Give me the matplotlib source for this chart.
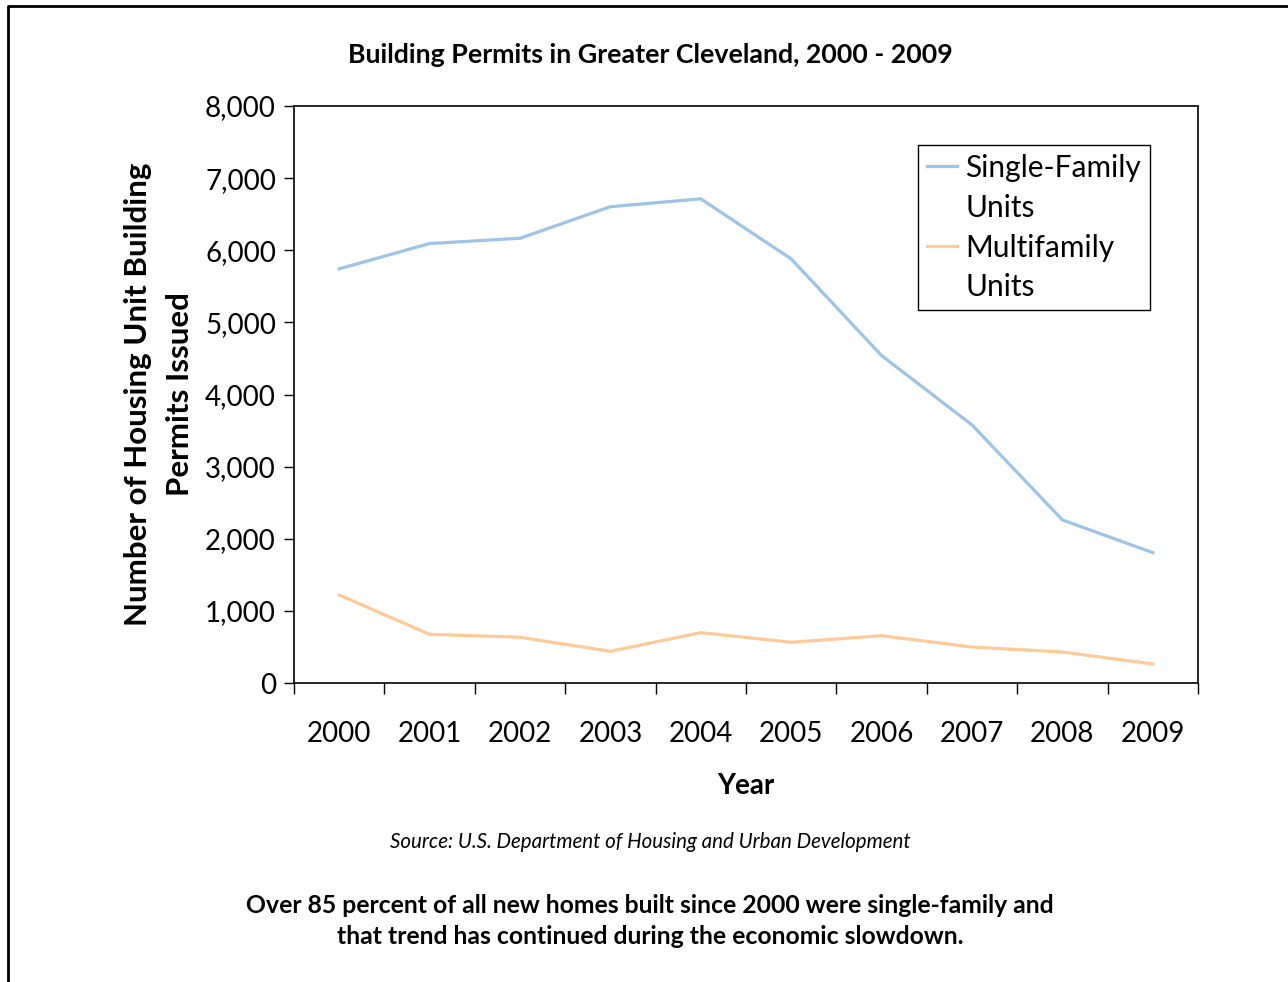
import matplotlib.pyplot as plt
from matplotlib.lines import Line2D
from matplotlib.ticker import FuncFormatter

plt.rcParams['font.family'] = ['Lato', 'DejaVu Sans']

# --- Datos ---
years = ["2000", "2001", "2002", "2003", "2004", "2005", "2006", "2007", "2008", "2009"]
single_family = [5742, 6093, 6166, 6604, 6713, 5880, 4539, 3578, 2261, 1807]
multifamily = [1220, 675, 634, 440, 698, 565, 656, 499, 430, 264]

W, H = 1288, 982
fig = plt.figure(figsize=(W / 100, H / 100), dpi=100)

# Ejes en coordenadas de pixel
left, right, top, bottom = 294, 1198, 106, 683
ax = fig.add_axes([left / W, (H - bottom) / H, (right - left) / W, (bottom - top) / H])

x = list(range(len(years)))
sf_line, = ax.plot(x, single_family, color="#9DC3E6", linewidth=2.3)
mf_line, = ax.plot(x, multifamily, color="#FFCA96", linewidth=2.3)

ax.set_xlim(-0.5, len(years) - 0.5)
ax.set_ylim(0, 8000)
ax.set_yticks(range(0, 8001, 1000))
ax.yaxis.set_major_formatter(FuncFormatter(lambda v, p: f"{int(v):,}"))
ax.tick_params(axis="y", direction="out", length=7, width=1, labelsize=20, pad=6)

# Marcas del eje x en los limites de categoria, etiquetas en el centro
ax.set_xticks([i - 0.5 for i in range(len(years) + 1)])
ax.set_xticklabels([])
ax.set_xticks(x, minor=True)
ax.set_xticklabels(years, minor=True)
ax.tick_params(axis="x", which="major", direction="out", length=8, width=1)
ax.tick_params(axis="x", which="minor", length=0, labelsize=20, pad=27)

for s in ax.spines.values():
    s.set_linewidth(1.2)

ax.set_xlabel("Year", fontsize=20, fontweight="bold", labelpad=19)
ax.set_ylabel("Number of Housing Unit Building\nPermits Issued", fontsize=22.5,
              fontweight="bold", labelpad=8, linespacing=1.6)

# Leyenda: la linea se alinea con la primera linea de cada etiqueta
blank = Line2D([], [], color="none")
leg = ax.legend([sf_line, blank, mf_line, blank],
                ["Single-Family", "Units", "Multifamily", "Units"],
                loc="upper right", bbox_to_anchor=(0.947, 0.933), fontsize=21.5,
                frameon=True, fancybox=False, edgecolor="black", framealpha=1,
                handlelength=1.0, handletextpad=0.28, labelspacing=0.4,
                borderpad=0.3, borderaxespad=0)
leg.get_frame().set_linewidth(1)

fig.text(650 / W, 1 - 55 / H, "Building Permits in Greater Cleveland, 2000 - 2009",
         ha="center", va="center", fontsize=19.3, fontweight="bold")
fig.text(650 / W, 1 - 842 / H, "Source: U.S. Department of Housing and Urban Development",
         ha="center", va="center", fontsize=14.8, style="italic")
fig.text(650 / W, 1 - 921 / H,
         "Over 85 percent of all new homes built since 2000 were single-family and\n"
         "that trend has continued during the economic slowdown.",
         ha="center", va="center", fontsize=17.8, fontweight="bold", linespacing=1.45)

# Marco exterior (solo izquierda y arriba)
fig.add_artist(Line2D([7.5 / W, 7.5 / W, 1], [0, 1 - 5.5 / H, 1 - 5.5 / H],
                      transform=fig.transFigure, color="black", linewidth=2))

fig.savefig("out.png", dpi=100)
